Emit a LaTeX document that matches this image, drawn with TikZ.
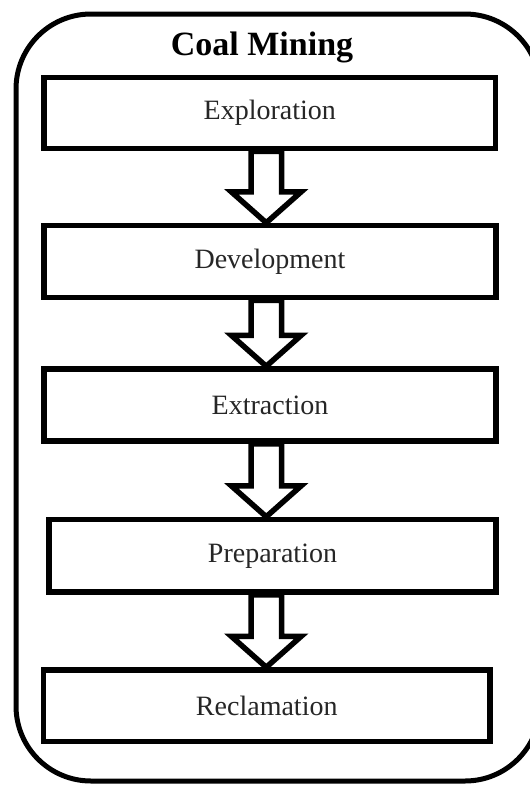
\documentclass[tikz,border=0pt]{standalone}
\usepackage{fontspec}
\setmainfont{Liberation Serif}
\usetikzlibrary{calc}
\begin{document}
\begin{tikzpicture}[x=1pt,y=-1pt,
  stagebox/.style={draw=black,line width=5.5pt,fill=white,inner sep=0pt,
    font=\fontsize{28}{30}\selectfont,text=black!85},
  flowarrow/.style={draw=black,line width=5.5pt,fill=white,line join=miter},
  frame/.style={draw=black,line width=5pt,rounded corners=75pt}]
\useasboundingbox (0,0) rectangle (530,785);
\clip (0,0) rectangle (530,785);
\fill[white] (0,0) rectangle (530,785);

% outer rounded frame (runs past the right edge)
\draw[frame] (16,14) rectangle (540,781);

% title
\node[anchor=base,font=\fontsize{34}{36}\selectfont\bfseries] (title) at (262,55) {Coal Mining};

% stages
\node[stagebox,minimum width=451.5pt,minimum height=71pt]   (s1) at (269.75,113)   {Exploration};
\node[stagebox,minimum width=452pt,minimum height=72pt]     (s2) at (270,261.5)    {Development};
\node[stagebox,minimum width=452pt,minimum height=72pt]     (s3) at (270,405)      {Extraction};
\node[stagebox,minimum width=447pt,minimum height=72.5pt]   (s4) at (272.5,555.75) {Preparation};
\node[stagebox,minimum width=446.5pt,minimum height=71.5pt] (s5) at (266.75,705.75){Reclamation};

% axis of the block arrows
\coordinate (ax) at (266.25,0);

% hollow block arrows between consecutive stages
\foreach \a/\b in {s1/s2,s2/s3,s3/s4,s4/s5}{
  \draw[flowarrow]
    ($(ax |- \a.south)+(-15.25,0)$) --
    ($(ax |- \b.north)+(-15.25,-31)$) --
    ($(ax |- \b.north)+(-35,-31)$) --
    (ax |- \b.north) --
    ($(ax |- \b.north)+(35,-31)$) --
    ($(ax |- \b.north)+(15.25,-31)$) --
    ($(ax |- \a.south)+(15.25,0)$) -- cycle;
}
\end{tikzpicture}
\end{document}
